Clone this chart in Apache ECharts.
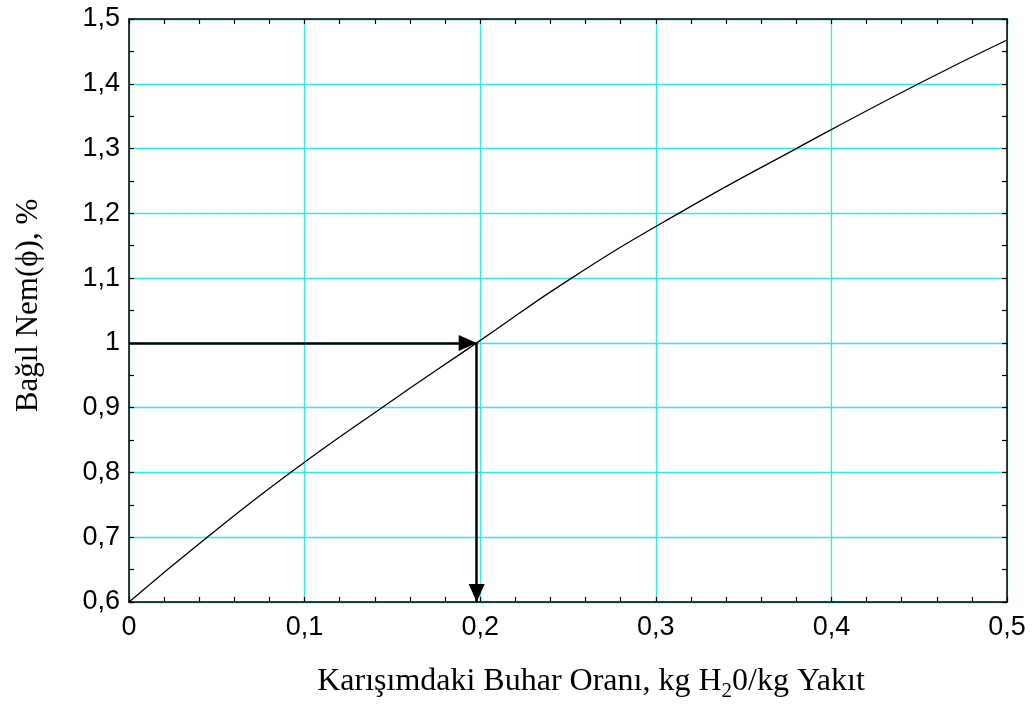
<!DOCTYPE html>
<html>
<head>
<meta charset="utf-8">
<script src="https://cdn.jsdelivr.net/npm/echarts@6/dist/echarts.min.js"></script>
<style>
  html, body { margin: 0; padding: 0; background: #fff; }
  #chart { width: 1033px; height: 704px; }
</style>
</head>
<body>
<div id="chart"></div>
<script>
// Steam fraction in the mixture (kg H2O / kg fuel) vs relative humidity
const steamRatio = [0, 0.0445, 0.092, 0.144, 0.198, 0.252, 0.313, 0.380, 0.4496, 0.5];
const humidity   = [0.6, 0.7, 0.8, 0.9, 1.0, 1.1, 1.2, 1.3, 1.4, 1.4676];

// Reading guide: from phi = 1 across to the curve, then down to the x axis
const guideX = 0.198;
const guideY = 1.0;

const xMin = 0, xMax = 0.5, xStep = 0.1;
const yMin = 0.6, yMax = 1.5, yStep = 0.1;

const fmt = v => {
  const r = Math.round(v * 10) / 10;
  return r === 0 ? '0' : (r === 1 ? '1' : r.toFixed(1).replace('.', ','));
};

const gridColor = '#2ee8ee';
const sansFont = 'Liberation Sans, Arial, sans-serif';
const serifFont = 'Liberation Serif, Times New Roman, serif';

// Builds one side of the boxed frame; only the bottom and left sides carry labels and grid
function frameAxis(kind, position, min, max, step, minorSplit, labelled) {
  return {
    type: 'value', position: position, min: min, max: max, interval: step,
    axisLine: { show: true, onZero: false, lineStyle: { color: '#000', width: 1.5 } },
    axisTick: { show: true, inside: true, length: 5, lineStyle: { color: '#000', width: 1.2 } },
    minorTick: { show: true, splitNumber: minorSplit, length: 5, lineStyle: { color: '#000', width: 1.2 } },
    minorSplitLine: { show: false },
    axisLabel: labelled
      ? { show: true, margin: kind === 'x' ? 12 : 9, formatter: fmt, fontFamily: sansFont, fontSize: 27, color: '#000' }
      : { show: false },
    splitLine: { show: labelled, lineStyle: { color: gridColor, width: 1.3 } }
  };
}

const xBottom = frameAxis('x', 'bottom', xMin, xMax, xStep, 5, true);
xBottom.name = '{a|Karışımdaki Buhar Oranı, kg H}{s|2}{a|0/kg Yakıt}';
xBottom.nameLocation = 'middle';
xBottom.nameGap = 62;
xBottom.nameTextStyle = {
  padding: [0, 0, 0, 46],
  rich: {
    a: { fontFamily: serifFont, fontSize: 32, color: '#000', lineHeight: 34, verticalAlign: 'bottom' },
    s: { fontFamily: serifFont, fontSize: 21, color: '#000', lineHeight: 24, verticalAlign: 'bottom', padding: [0, 0, -4, 0] }
  }
};

const yLeft = frameAxis('y', 'left', yMin, yMax, yStep, 2, true);
yLeft.name = 'Bağıl Nem(ϕ), %';
yLeft.nameLocation = 'middle';
yLeft.nameGap = 85;
yLeft.nameRotate = 90;
yLeft.nameTextStyle = { fontFamily: serifFont, fontSize: 31, color: '#000', padding: [0, 0, 0, 10] };

const chart = echarts.init(document.getElementById('chart'), null, { renderer: 'canvas' });

chart.setOption({
  animation: false,
  backgroundColor: '#fff',
  grid: { left: 129, top: 19, right: 26, bottom: 102, containLabel: false, outerBoundsMode: 'none' },
  xAxis: [xBottom, frameAxis('x', 'top', xMin, xMax, xStep, 5, false)],
  yAxis: [yLeft, frameAxis('y', 'right', yMin, yMax, yStep, 2, false)],
  series: [
    {
      type: 'line',
      data: steamRatio.map((x, i) => [x, humidity[i]]),
      smooth: 0.5,
      showSymbol: false,
      lineStyle: { color: '#000', width: 1.3 },
      z: 3
    },
    {
      type: 'line',
      data: [],
      markLine: {
        silent: true,
        symbol: ['none', 'triangle'],
        symbolSize: [16, 18],
        symbolOffset: [[0, 0], [0, 9]],
        label: { show: false },
        lineStyle: { color: '#000', width: 2.5, type: 'solid' },
        data: [
          [{ coord: [xMin, guideY] }, { coord: [guideX, guideY] }],
          [{ coord: [guideX, guideY] }, { coord: [guideX, yMin] }]
        ]
      },
      z: 4
    }
  ]
});
</script>
</body>
</html>
